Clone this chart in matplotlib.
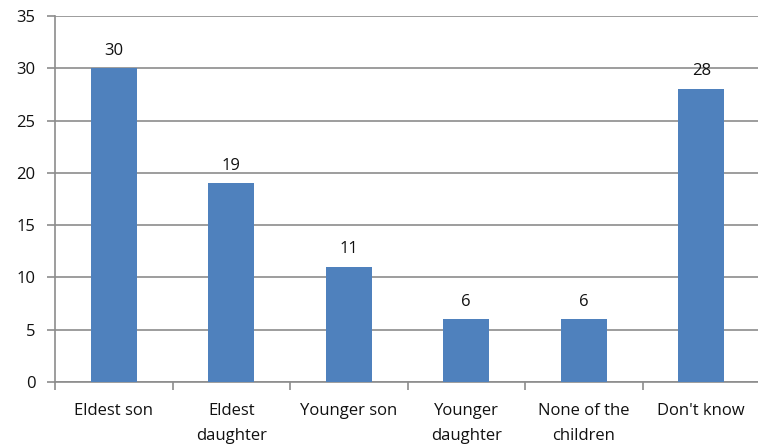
import matplotlib
matplotlib.use('Agg')
import matplotlib.pyplot as plt
import numpy as np

categories = ['Eldest son', 'Eldest\ndaughter', 'Younger son', 'Younger\ndaughter',
              'None of the\nchildren', "Don't know"]
values = [30, 19, 11, 6, 6, 28]
yticks = [0, 5, 10, 15, 20, 25, 30, 35]

bar_color = '#4F81BD'
grid_color = '#8C8C8C'
text_color = '#111111'

plt.rcParams['font.family'] = ['Open Sans', 'DejaVu Sans']

fig = plt.figure(figsize=(7.58, 4.47), dpi=100)
ax = fig.add_axes([55 / 758, 65 / 447, 705 / 758, 366 / 447])

x = np.arange(len(categories))
bars = ax.bar(x, values, width=0.39, color=bar_color, zorder=3)

for xi, v in zip(x, values):
    ax.annotate(str(v), (xi, v), xytext=(0, 7), textcoords='offset points',
                ha='center', va='bottom', fontsize=12, color=text_color)

ax.set_xlim(-0.5, len(categories) - 0.5)
ax.set_ylim(0, 35)
ax.set_yticks(yticks)
ax.yaxis.grid(True, color=grid_color, linewidth=1.2, zorder=0)

# category labels in the middle, ticks on the boundaries
ax.set_xticks(x)
ax.set_xticklabels(categories, fontsize=12, color=text_color, linespacing=1.75, va='top')
ax.set_xticks(np.arange(len(categories) + 1) - 0.5, minor=True)
ax.tick_params(axis='x', which='major', length=0, pad=15)
ax.tick_params(axis='x', which='minor', length=6, color=grid_color, width=1.2)
ax.tick_params(axis='y', length=6, color=grid_color, width=1.2, pad=8,
               labelsize=12, labelcolor=text_color)

for side in ['top', 'right']:
    ax.spines[side].set_visible(False)
for side in ['left', 'bottom']:
    ax.spines[side].set_color(grid_color)
    ax.spines[side].set_linewidth(1.2)

fig.savefig('out.png', dpi=100)
plt.close(fig)
